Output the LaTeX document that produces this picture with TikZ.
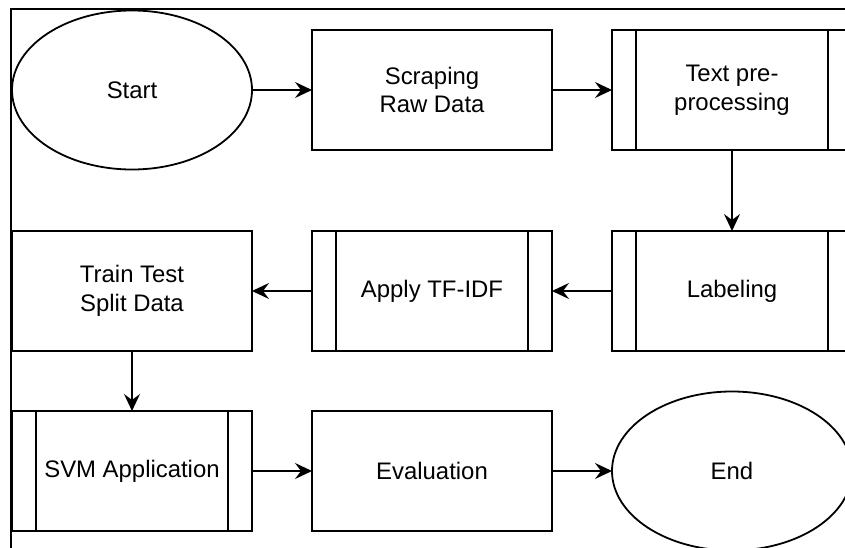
\documentclass[tikz,border=0pt]{standalone}
\usepackage{fontspec}
\setmainfont{Liberation Sans}
\usepackage{tikz}
\usetikzlibrary{positioning, arrows.meta, shapes.geometric}

\begin{document}
\begin{tikzpicture}[x=1pt, y=1pt, node distance=60pt,
    font=\fontsize{23.9}{28.7}\selectfont]
    % Define styles
    \tikzset{
        term/.style = {ellipse, draw, line width=1.8pt, minimum width=240pt,
            minimum height=159pt, inner sep=0pt, outer sep=0pt},
        proc/.style = {rectangle, draw, line width=1.8pt, minimum width=240pt,
            minimum height=120pt, align=center, inner sep=0pt, outer sep=0pt},
        subproc/.style = {proc, path picture={
            \draw[line width=1.8pt]
                ([xshift=24pt]path picture bounding box.north west) --
                ([xshift=24pt]path picture bounding box.south west)
                ([xshift=-24pt]path picture bounding box.north east) --
                ([xshift=-24pt]path picture bounding box.south east);}},
        line/.style = {draw, line width=1.8pt,
            -{Stealth[length=17pt, width=16pt, inset=6pt]}}
    }

    \useasboundingbox (0,0) rectangle (845,-548);
    \clip (0,0) rectangle (845,-548);

    % Frame of the page
    \draw[line width=1.8pt] (11,-9) rectangle (880,-580);

    % Place nodes
    \node [term] (start) at (132,-90) {Start};
    \node [proc, right=of start] (scraping) {Scraping\\Raw Data};
    \node [subproc, right=of scraping] (preprocessing) {Text pre-\\processing};
    \node [subproc, below=81pt of preprocessing] (labeling) {Labeling};
    \node [subproc, left=of labeling] (tfidf) {Apply TF-IDF};
    \node [proc, left=of tfidf] (split) {Train Test\\Split Data};
    \node [subproc, below=of split] (svm) {SVM Application};
    \node [proc, right=of svm] (evaluation) {Evaluation};
    \node [term, right=of evaluation] (end) {End};

    % Draw edges
    \path [line] (start) -- (scraping);
    \path [line] (scraping) -- (preprocessing);
    \path [line] (preprocessing) -- (labeling);
    \path [line] (labeling) -- (tfidf);
    \path [line] (tfidf) -- (split);
    \path [line] (split) -- (svm);
    \path [line] (svm) -- (evaluation);
    \path [line] (evaluation) -- (end);
\end{tikzpicture}
\end{document}
